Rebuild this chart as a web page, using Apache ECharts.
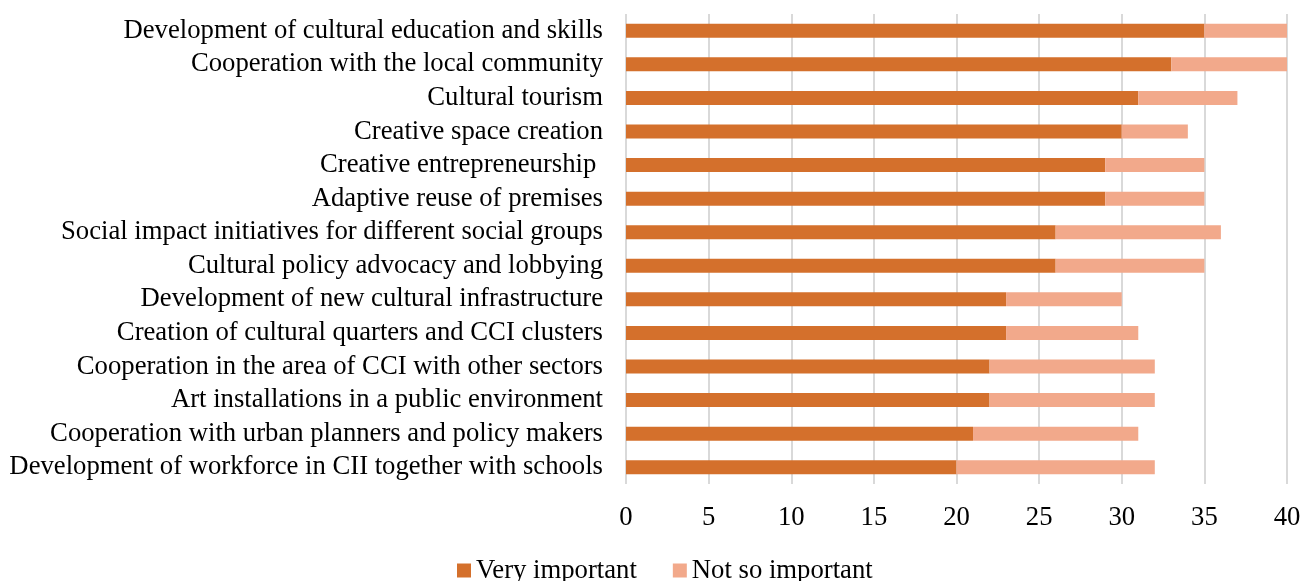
<!DOCTYPE html>
<html>
<head>
<meta charset="utf-8">
<script src="https://cdn.jsdelivr.net/npm/echarts@6/dist/echarts.min.js"></script>
<style>
  html, body { margin: 0; padding: 0; background: #fff; }
  #chart { width: 1302px; height: 581px; }
</style>
</head>
<body>
<div id="chart"></div>
<script>
const categories = [
  'Development of cultural education and skills',
  'Cooperation with the local community',
  'Cultural tourism',
  'Creative space creation',
  'Creative entrepreneurship ',
  'Adaptive reuse of premises',
  'Social impact initiatives for different social groups',
  'Cultural policy advocacy and lobbying',
  'Development of new cultural infrastructure',
  'Creation of cultural quarters and CCI clusters',
  'Cooperation in the area of CCI with other sectors',
  'Art installations in a public environment',
  'Cooperation with urban planners and policy makers',
  'Development of workforce in CII together with schools'
];
const veryImportant = [35, 33, 31, 30, 29, 29, 26, 26, 23, 23, 22, 22, 21, 20];
const notSoImportant = [5, 7, 6, 4, 6, 6, 10, 9, 7, 8, 10, 10, 10, 12];

const font = "'Liberation Serif', 'Times New Roman', serif";
const fs = 26.7;
const chart = echarts.init(document.getElementById('chart'), null, { renderer: 'canvas' });
chart.setOption({
  animation: false,
  textStyle: { fontFamily: font },
  grid: { left: 626, right: 15, top: 14, bottom: 97, outerBoundsMode: 'none', containLabel: false },
  xAxis: {
    type: 'value', min: 0, max: 40, interval: 5,
    axisLine: { show: false }, axisTick: { show: false },
    splitLine: { show: true, lineStyle: { color: '#d9d9d9', width: 2 } },
    axisLabel: { color: '#000', fontFamily: font, fontSize: fs, margin: 20 }
  },
  yAxis: {
    type: 'category', data: categories, inverse: true,
    axisLine: { show: false }, axisTick: { show: false },
    axisLabel: { color: '#000', fontFamily: font, fontSize: fs, margin: 23, interval: 0 }
  },
  legend: {
    bottom: -8, left: 452, itemWidth: 14, itemHeight: 14, itemGap: 36,
    icon: 'rect',
    textStyle: { color: '#000', fontFamily: font, fontSize: fs },
    data: ['Very important', 'Not so important']
  },
  series: [
    { name: 'Very important', type: 'bar', stack: 'total', data: veryImportant,
      barWidth: 14, itemStyle: { color: '#D4702C' } },
    { name: 'Not so important', type: 'bar', stack: 'total', data: notSoImportant,
      barWidth: 14, itemStyle: { color: '#F2A98B' } }
  ]
});
</script>
</body>
</html>
